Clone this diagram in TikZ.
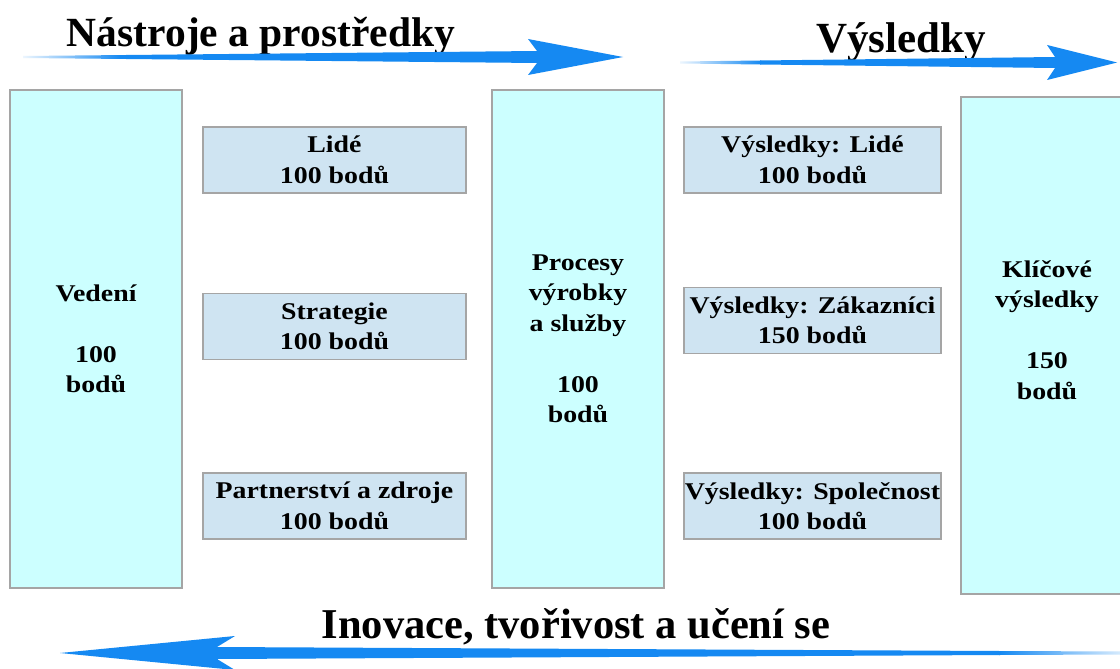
\documentclass[tikz,border=0pt]{standalone}
\usepackage{fontspec}
\setmainfont{Liberation Serif}
\newfontfamily\bxf[FakeStretch=1.16]{Liberation Serif}
\definecolor{arrowblue}{RGB}{21,137,242}
\definecolor{tallfill}{RGB}{204,255,255}
\definecolor{smallfill}{RGB}{207,228,242}
\definecolor{bordergray}{RGB}{165,165,165}
\begin{document}
\begin{tikzpicture}[x=1pt,y=-1pt,
  box/.style={draw=bordergray,line width=1.6pt,inner sep=0pt,align=center,
    font=\bxf\bfseries\fontsize{24}{30.5}\selectfont,text=black},
  tallbox/.style={box,fill=tallfill,minimum width=172,minimum height=498},
  smallbox/.style={box,fill=smallfill,minimum height=66},
  boxtext/.style={inner sep=0pt,align=center,font=\bxf\bfseries\fontsize{24}{30.5}\selectfont},
  title/.style={font=\bfseries\fontsize{41.5}{44}\selectfont,inner sep=0pt,anchor=base},
  arrowfill/.style={fill=arrowblue},
  arrowfade/.style={left color=arrowblue!8,right color=arrowblue}]
\useasboundingbox (0,0) rectangle (1120,669);
\fill[white] (0,0) rectangle (1120,669);

% titles
\node[title] (t1) at (261,47) {Nástroje a prostředky};
\node[title,font=\bfseries\fontsize{43}{44}\selectfont] (t2) at (901,53) {Výsledky};
\node[title,font=\bfseries\fontsize{42.5}{44}\selectfont] (t3) at (576,638) {Inovace, tvořivost a učení se};

% top-left arrow
\shade[arrowfade] (23,56) -- (121,55.06) -- (121,58.94) -- (23,58) -- cycle;
\fill[arrowfill] (120,55.06) -- (537,51) -- (528,39) -- (623,57) -- (528,75) -- (537,63) -- (120,58.94) -- cycle;

% top-right arrow
\shade[arrowfade] (680,61.5) -- (761,60.5) -- (761,64.5) -- (680,63.5) -- cycle;
\fill[arrowfill] (760,60.5) -- (1055,57) -- (1047,45) -- (1117,62.5) -- (1047,80) -- (1055,68) -- (760,64.5) -- cycle;

% bottom arrow (pointing left)
\shade[left color=arrowblue,right color=arrowblue!15] (999,651) -- (1125,651.5) -- (1125,654.5) -- (999,655) -- cycle;
\fill[arrowfill] (1000,651) -- (217,647) -- (235,636) -- (60,653) -- (235,670) -- (217,659) -- (1000,655) -- cycle;

% tall boxes
\node[tallbox] (ved) at (96,339) {Vedení\\\mbox{}\\100\\bodů};
\node[tallbox] (proc) at (578,339) {Procesy\\výrobky\\a služby\\\mbox{}\\100\\bodů};
\node[tallbox,minimum width=169,minimum height=497] (klic) at (1045.5,345.5) {};
\node[boxtext] (klictext) at (1047,330) {Klíčové\\výsledky\\\mbox{}\\150\\bodů};

% small boxes, left column
\node[smallbox,minimum width=263] (lide) at (334.5,160) {Lidé\\100 bodů};
\node[smallbox,minimum width=263] (strat) at (334.5,326.5) {Strategie\\100 bodů};
\node[smallbox,minimum width=263] (part) at (334.5,506) {Partnerství a zdroje\\100 bodů};

% small boxes, right column
\node[smallbox,minimum width=257] (vlide) at (812.5,160) {Výsledky: Lidé\\100 bodů};
\node[smallbox,minimum width=257] (vzak) at (812.5,320.5) {Výsledky: Zákazníci\\150 bodů};
\node[smallbox,minimum width=257] (vspol) at (812.5,506) {Výsledky: Společnost\\100 bodů};
\end{tikzpicture}
\end{document}
